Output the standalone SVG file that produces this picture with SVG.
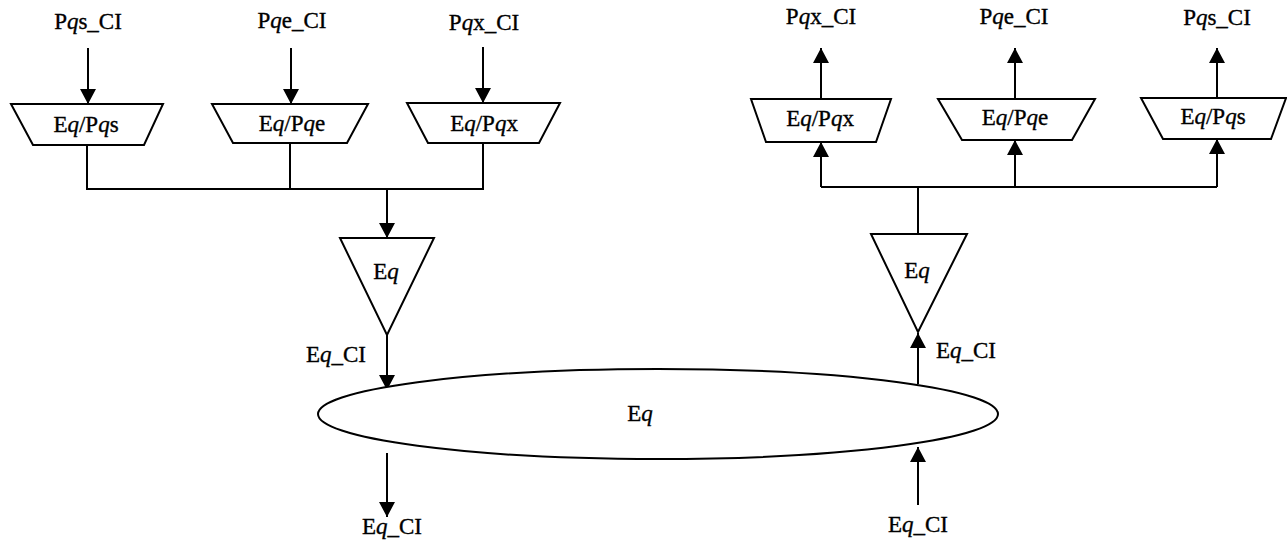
<svg xmlns="http://www.w3.org/2000/svg" width="1287" height="540" viewBox="0 0 1287 540">
<style>
.s{fill:#fff;stroke:#000;stroke-width:2}
.c{fill:none;stroke:#000;stroke-width:2}
text{font-family:"Liberation Serif","Times New Roman",serif;font-size:23px;fill:#000;stroke:#000;stroke-width:0.35;text-anchor:middle}
.i{font-style:italic}
</style>
<defs>
<marker id="ah" viewBox="0 0 15 16" refX="15" refY="8" markerWidth="15" markerHeight="16" markerUnits="userSpaceOnUse" orient="auto">
<path d="M0,0 L15,8 L0,16 z" fill="#000"/>
</marker>
</defs>
<rect width="1287" height="540" fill="#fff"/>
<g id="connectors">
<line class="c" x1="88" y1="48" x2="88" y2="104" marker-end="url(#ah)"/>
<line class="c" x1="291" y1="48" x2="291" y2="104" marker-end="url(#ah)"/>
<line class="c" x1="483" y1="47" x2="483" y2="103" marker-end="url(#ah)"/>
<polyline class="c" points="87,145 87,189 483,189 483,143"/>
<line class="c" x1="290" y1="143" x2="290" y2="189"/>
<line class="c" x1="387" y1="189" x2="387" y2="238" marker-end="url(#ah)"/>
<line class="c" x1="387" y1="335" x2="387" y2="390" marker-end="url(#ah)"/>
<line class="c" x1="387" y1="453" x2="387" y2="517" marker-end="url(#ah)"/>
<line class="c" x1="821" y1="99" x2="821" y2="48" marker-end="url(#ah)"/>
<line class="c" x1="1015" y1="99" x2="1015" y2="48" marker-end="url(#ah)"/>
<line class="c" x1="1217" y1="98" x2="1217" y2="48" marker-end="url(#ah)"/>
<line class="c" x1="821" y1="187" x2="1217" y2="187"/>
<line class="c" x1="821" y1="187" x2="821" y2="142" marker-end="url(#ah)"/>
<line class="c" x1="1015" y1="187" x2="1015" y2="140" marker-end="url(#ah)"/>
<line class="c" x1="1217" y1="187" x2="1217" y2="139" marker-end="url(#ah)"/>
<line class="c" x1="918" y1="187" x2="918" y2="234"/>
<line class="c" x1="918" y1="384" x2="918" y2="333" marker-end="url(#ah)"/>
<line class="c" x1="918" y1="505" x2="918" y2="447" marker-end="url(#ah)"/>
</g>
<g id="lbl-in-pqs"><text x="88" y="29">P<tspan class="i">q</tspan>s_CI</text></g>
<g id="lbl-in-pqe"><text x="292" y="28">P<tspan class="i">q</tspan>e_CI</text></g>
<g id="lbl-in-pqx"><text x="484" y="30">P<tspan class="i">q</tspan>x_CI</text></g>
<g id="conv-pqs"><polygon class="s" points="11,104 163,104 144,145 33,145"/><text x="86" y="132">E<tspan class="i">q</tspan>/P<tspan class="i">q</tspan>s</text></g>
<g id="conv-pqe"><polygon class="s" points="212,104 368,104 347,143 233,143"/><text x="292" y="131">E<tspan class="i">q</tspan>/P<tspan class="i">q</tspan>e</text></g>
<g id="conv-pqx"><polygon class="s" points="407,103 560,103 539,143 428,143"/><text x="484" y="131">E<tspan class="i">q</tspan>/P<tspan class="i">q</tspan>x</text></g>
<g id="sum-left"><polygon class="s" points="340,238 434,238 387,335"/><text x="386" y="279">E<tspan class="i">q</tspan></text></g>
<g id="lbl-eqci-tl"><text x="336" y="362">E<tspan class="i">q</tspan>_CI</text></g>
<g id="lbl-eqci-bl"><text x="392" y="534">E<tspan class="i">q</tspan>_CI</text></g>
<g id="ellipse-eq"><ellipse class="s" cx="658" cy="414" rx="340" ry="45"/><text x="640" y="421">E<tspan class="i">q</tspan></text></g>
<g id="sum-right"><polygon class="s" points="871,234 967,234 918,332"/><text x="917" y="278">E<tspan class="i">q</tspan></text></g>
<g id="lbl-eqci-tr"><text x="966" y="358">E<tspan class="i">q</tspan>_CI</text></g>
<g id="lbl-eqci-br"><text x="918" y="532">E<tspan class="i">q</tspan>_CI</text></g>
<g id="conv-r-pqx"><polygon class="s" points="751,99 891,99 876,142 766,142"/><text x="820" y="126">E<tspan class="i">q</tspan>/P<tspan class="i">q</tspan>x</text></g>
<g id="conv-r-pqe"><polygon class="s" points="938,99 1095,99 1072,140 962,140"/><text x="1015" y="125">E<tspan class="i">q</tspan>/P<tspan class="i">q</tspan>e</text></g>
<g id="conv-r-pqs"><polygon class="s" points="1141,98 1286,98 1271,139 1163,139"/><text x="1213" y="124">E<tspan class="i">q</tspan>/P<tspan class="i">q</tspan>s</text></g>
<g id="lbl-out-pqx"><text x="821" y="24">P<tspan class="i">q</tspan>x_CI</text></g>
<g id="lbl-out-pqe"><text x="1014" y="24">P<tspan class="i">q</tspan>e_CI</text></g>
<g id="lbl-out-pqs"><text x="1217" y="25">P<tspan class="i">q</tspan>s_CI</text></g>
</svg>
